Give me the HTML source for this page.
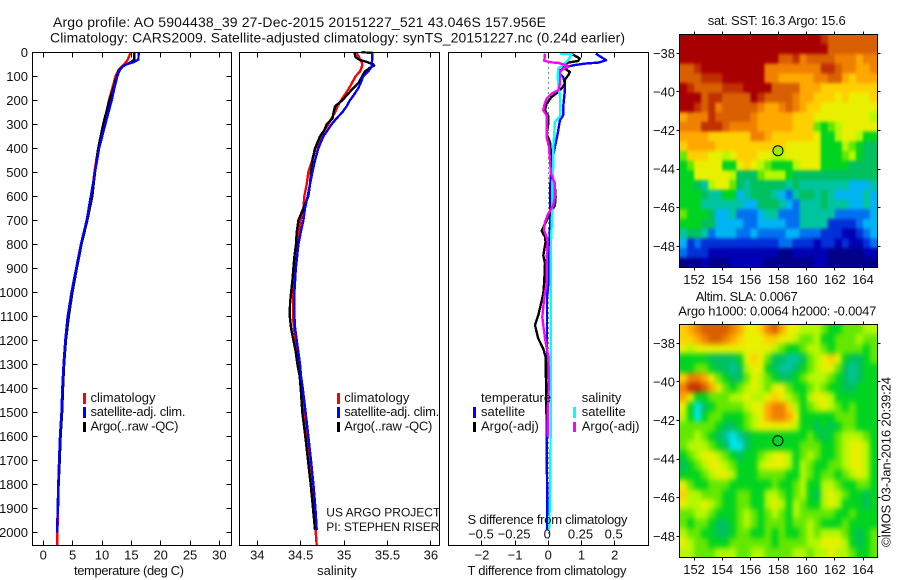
<!DOCTYPE html>
<html>
<head>
<meta charset="utf-8">
<title>Argo profile</title>
<style>
html,body{margin:0;padding:0;background:#fff;width:900px;height:580px;overflow:hidden}
svg{display:block}
text{font-family:"Liberation Sans",sans-serif;font-size:13px;fill:#111}
.ttl{font-size:14px}
.sm{font-size:12px}
.frame{fill:none;stroke:#000;stroke-width:1;shape-rendering:crispEdges}
.tick{stroke:#000;stroke-width:1;shape-rendering:crispEdges}
.prof{fill:none;stroke-width:2.4;shape-rendering:crispEdges;stroke-linejoin:round}
.key{shape-rendering:crispEdges}
</style>
</head>
<body>
<svg id="chart" width="900" height="580" viewBox="0 0 900 580" xmlns="http://www.w3.org/2000/svg">
<defs>
<clipPath id="sst-clip"><rect x="680" y="34.5" width="197" height="233"/></clipPath>
<clipPath id="sla-clip"><rect x="680" y="324.5" width="197" height="233"/></clipPath>
<filter id="sst-blur" color-interpolation-filters="sRGB"><feGaussianBlur stdDeviation="1.2 1.6"/></filter>
<filter id="sla-blur" color-interpolation-filters="sRGB"><feGaussianBlur stdDeviation="2.4 3"/></filter>
</defs>
<rect x="0" y="0" width="900" height="580" fill="#fff"/>
<g id="maps"></g>
<g id="profiles"></g>
<g id="axes"></g>

<text class="ttl" x="53" y="27" textLength="493" lengthAdjust="spacing">Argo profile: AO 5904438_39 27-Dec-2015 20151227_521 43.046S 157.956E</text>
<text class="ttl" x="50" y="42.5" textLength="575" lengthAdjust="spacing">Climatology: CARS2009. Satellite-adjusted climatology: synTS_20151227.nc (0.24d earlier)</text>

<text x="129" y="575" text-anchor="middle" textLength="110" lengthAdjust="spacing">temperature (deg C)</text>
<text x="337" y="575" text-anchor="middle">salinity</text>
<text x="547" y="575" text-anchor="middle" textLength="159" lengthAdjust="spacing">T difference from climatology</text>
<text x="547.5" y="524" text-anchor="middle" textLength="160" lengthAdjust="spacing">S difference from climatology</text>

<g>
<rect class="key" x="83" y="393" width="3" height="11" fill="#f00"/>
<rect class="key" x="83" y="407" width="3" height="11" fill="#00f"/>
<rect class="key" x="83" y="422" width="3" height="10" fill="#000"/>
<text x="90.5" y="402">climatology</text>
<text x="90.5" y="416" textLength="95" lengthAdjust="spacing">satellite-adj. clim.</text>
<text x="90.5" y="430.5" textLength="88" lengthAdjust="spacing">Argo(..raw -QC)</text>
</g>
<g>
<rect class="key" x="337" y="393" width="3" height="11" fill="#f00"/>
<rect class="key" x="337" y="407" width="3" height="11" fill="#00f"/>
<rect class="key" x="337" y="422" width="3" height="10" fill="#000"/>
<text x="344.3" y="402">climatology</text>
<text x="344.3" y="416" textLength="95" lengthAdjust="spacing">satellite-adj. clim.</text>
<text x="344.3" y="430.5" textLength="88" lengthAdjust="spacing">Argo(..raw -QC)</text>
<text class="sm" x="326.3" y="516.5" textLength="114" lengthAdjust="spacing">US ARGO PROJECT</text>
<text class="sm" x="326.3" y="531" textLength="113" lengthAdjust="spacing">PI: STEPHEN RISER</text>
</g>
<g>
<text x="481" y="402">temperature</text>
<text x="581.7" y="402">salinity</text>
<rect class="key" x="473" y="407" width="3" height="11" fill="#00f"/>
<rect class="key" x="473" y="422" width="3" height="10" fill="#000"/>
<rect class="key" x="573" y="407" width="3" height="11" fill="#0ff"/>
<rect class="key" x="573" y="422" width="3" height="10" fill="#f0f"/>
<text x="481" y="416">satellite</text>
<text x="481" y="430.5">Argo(-adj)</text>
<text x="581.7" y="416">satellite</text>
<text x="581.7" y="430.5">Argo(-adj)</text>
</g>

<text x="707.7" y="25" textLength="138" lengthAdjust="spacing">sat. SST: 16.3 Argo: 15.6</text>
<text x="695.7" y="301" textLength="102" lengthAdjust="spacing">Altim. SLA: 0.0067</text>
<text x="678.3" y="315.5" textLength="198" lengthAdjust="spacing">Argo h1000: 0.0064 h2000: -0.0047</text>
<text transform="translate(890.5,547) rotate(-90)" textLength="170" lengthAdjust="spacing">©IMOS 03-Jan-2016 20:39:24</text>
</svg>

<script>
// ---- profile data ----
var tempDepth = [0,30,40,50,60,75,100,150,200,300,400,500,600,700,800,900,1000,1100,1200,1300,1400,1500,1600,1700,1800,1900,2000,2055];
var tempClim = [14.9,14.4,14.1,13.8,13.4,12.8,12.3,11.75,11.2,10.3,9.35,8.7,8.24,7.45,6.4,5.6,4.8,4.2,3.8,3.5,3.3,3.13,2.9,2.75,2.58,2.5,2.4,2.4];
var tempSat = [16.25,16.2,15.5,14.2,13.5,13.0,12.6,12.1,11.65,10.56,9.5,8.8,8.1,7.4,6.4,5.6,4.8,4.15,3.75,3.45,3.24,3.1,2.85,2.7,2.55,2.45,2.35];
var tempArgo = [15.5,15.5,15.05,14.2,13.4,12.9,12.5,11.9,11.25,10.2,9.35,8.8,8.35,7.5,6.5,5.7,4.95,4.35,3.85,3.55,3.35,3.2,2.95,2.8,2.6,2.5];

var salDepth = [0,2,10,20,30,40,50,55,65,80,100,125,150,175,200,225,250,275,300,325,350,400,450,500,550,600,650,700,750,800,850,900,950,1000,1050,1100,1150,1200,1250,1300,1350,1400,1500,1600,1700,1800,1900,1990,2055];
var salClim = [35.144,35.144,35.155,35.17,35.182,35.201,35.209,35.209,35.201,35.182,35.132,35.094,35.056,35.01,34.964,34.925,34.895,34.856,34.818,34.772,34.734,34.672,34.634,34.588,34.569,34.542,34.531,34.5,34.473,34.454,34.443,34.435,34.423,34.416,34.412,34.412,34.42,34.443,34.458,34.473,34.489,34.504,34.534,34.569,34.596,34.63,34.657,34.672,34.684];
var salSat = [35.201,35.324,35.324,35.324,35.324,35.32,35.316,35.324,35.308,35.278,35.22,35.193,35.163,35.117,35.067,35.029,34.979,34.914,34.856,34.81,34.761,34.703,34.665,34.634,34.607,34.58,34.55,34.531,34.5,34.473,34.458,34.443,34.435,34.427,34.427,34.427,34.435,34.454,34.473,34.492,34.504,34.523,34.557,34.588,34.619,34.646,34.669,34.684];
var salArgo = [35.125,35.125,35.125,35.132,35.17,35.259,35.335,35.347,35.297,35.239,35.209,35.17,35.105,35.04,34.979,34.895,34.879,34.868,34.799,34.772,34.722,34.665,34.634,34.619,34.607,34.588,34.531,34.473,34.454,34.446,34.427,34.416,34.404,34.389,34.377,34.374,34.389,34.416,34.443,34.462,34.488,34.5,34.519,34.553,34.584,34.615,34.642,34.665];

var diffSatTDepth = [6,33,43,47,54,61,75,89,103,131,158,186,228,262,283,325,360,394,429,464,506,575,644,728,783,867,964,1019,1339,1367,1644,1867,1992];
var diffSatT = [1.43,1.74,1.51,1.10,0.75,0.55,0.35,0.35,0.45,0.5,0.5,0.48,0.45,0.45,0.35,0.3,0.25,0.2,0.15,0.12,0.08,0.05,0.05,0.05,0.04,0.02,0,-0.04,-0.04,-0.06,-0.05,-0.03,-0.03];
var diffArgoTDepth = [6,26,36,43,54,68,82,96,114,131,151,165,186,214,242,267,297,339,374,422,457,506,561,603,638,672,714,744,769,790,846,881,950,1006,1047,1096,1137,1193,1235,1269,1367,1464,1533];
var diffArgoT = [0.7,0.95,0.9,0.6,0.4,0.5,0.65,0.6,0.5,0.5,0.4,0.3,0.1,-0.05,-0.1,0,0,-0.05,0.05,0.08,0.08,0.1,0.2,0.22,0.2,0.05,-0.1,-0.2,-0.1,-0.08,-0.15,-0.1,-0.12,-0.15,-0.22,-0.3,-0.4,-0.3,-0.15,-0.08,-0.07,-0.05,-0.05];
var diffSatSDepth = [6,8,33,50,68,103,131,186,235,267,290,339,394,464,547,644,728,783,964,1144,1256,1367,1450,1547,1853,1992];
var diffSatS = [0.088,0.176,0.15,0.113,0.075,0.07,0.075,0.088,0.088,0.088,0.05,0.045,0.038,0.038,0.03,0.03,0.025,0.02,0.018,0.018,0.018,0.02,0.018,0.018,0.013,0.005];
var diffArgoSDepth = [6,36,42,44,54,61,68,82,110,131,158,172,193,221,242,262,311,353,394,450,506,547,603,638,672,707,742,769,790,867,964,1019,1103,1158,1214,1269,1367,1506,1603];
var diffArgoS = [-0.025,-0.03,0.025,0.075,0.138,0.15,0.113,0.088,0.088,0.088,0.075,0.025,-0.013,-0.03,-0.038,-0.013,-0.013,-0.013,0.005,0.013,0.02,0.05,0.05,0.038,0,-0.025,-0.033,-0.013,-0.005,-0.013,-0.013,-0.03,-0.045,-0.033,-0.018,0,0.005,-0.005,-0.005];

// ---- tick labels ----
var depthTicks = [0,100,200,300,400,500,600,700,800,900,1000,1100,1200,1300,1400,1500,1600,1700,1800,1900,2000];
var tempTicks = [0,5,10,15,20,25,30];
var salTicks = [34,34.5,35,35.5,36];
var diffTTicks = [-2,-1,0,1,2];
var diffSTicks = [-0.5,-0.25,0,0.25,0.5];
var lonTicks = [152,154,156,158,160,162,164];
var latTicks = [-38,-40,-42,-44,-46,-48];

// ---- map grids: 0.5 degree cells, letter = colour class, rows run north to south ----
var sstRows = [
"qqqqqqqqqqqqqqqqqqqqpooooooo",
"qqqqqqqqqqqqqqqqqqqqqooooooo",
"qqqqqqqqqqqqqqoopnoooonnnmnn",
"oopqqqqqqqqqnnnnnnnnpponnmmn",
"ooopppqqqqqqnnmmmmmnnoomlmmm",
"qpoooopppqqqqoooommmllllllll",
"qqqoppooooqpoooonmmlllklkkkl",
"qqpopnooooonmmnonmllkkkkkkkk",
"mnnnpooooonmmmmmlllkkkkkkkkj",
"nnnpppOnnnnmmmmmlllihijkkkkk",
"mmmmllllllnnmllllllkhhjkkjhh",
"lmmmmllllllllllkkkkkhhhjihgg",
"illlkkjklllkkjjkkkkkhhhijhgg",
"hikkkkhhklkjihhhjkkkhhhhgggg",
"hhkkkkkjgggijjjhgggggggggggg",
"hhgfjkkigfgggggfgfffffffeeef",
"hhhgffhhefgggfedfggfgfeeeefe",
"hhhffffffeegggfedfffgfffeefe",
"ihhhgeefdddeffdddfffffddddde",
"hhhggeeeeddeeeeddffffccccdee",
"fggfdeeeddeddddeedddcccbbcde",
"ecdcccccccccccddcccbccbcbbcd",
"dcccbbbbbbbbbbaabbbbbaaaaabb",
"aaabaaabbbbbaaaaaaabbaaaaaaa"
];
var slaRows = [
"lmnoooonmkklnomkkjjjihhiiijj",
"llmnoonmlkkkllkkjiijhhiiijii",
"kjkkkkkkkkkkkjihhijjihiiiihi",
"hhhhgggghklkiggffgijklkhgghi",
"hhiihggfgjkkhgffghijkkigfghh",
"lnnmkihggikjihgghijjjihgfghh",
"nppomkihijkjikkihhijihhgghhh",
"mkhhiiijjkjjklkjihjkkjhhhhhh",
"khrghiiiijkkmnnljhijkjihihhh",
"jhrhiihhhijkmnnmkhhhhhiiihhh",
"iiiiihgghijkkkkkjhhghghiihhh",
"iijihgfrfghhhhhhhhihghijjjih",
"ijjjihgrrghhhhhhhiiihhijkkjh",
"hijkkjihghhijkkjhijihhijkkjh",
"ghijkkjihhhjkkkjhjihhiijkkjh",
"hhhijkkjhhhiiiihhjihiihijkjh",
"kihhiiihhhhhhihhijhhjjihhiih",
"ljjiiihhiihhjjihijhgjkjihhgh",
"kjjkjihhiihhjkjhjihhjkjhhhgh",
"iijjihhhijihijihjiiiiihhihhh",
"ihiihgghijihiiihiijihhhihhhh",
"jiihhgghiihhihihhijijjjihghi",
"kjiihhhiiiiiihiiiijjkkkjhghi",
"jjiiijjjiijjiiiijjijjkjjihhi"
];
var colourClasses = {a:"#000088",b:"#0000b4",c:"#0030d8",d:"#0070f0",e:"#00b4f4",f:"#00c4a0",g:"#00c060",h:"#00d420",i:"#64e800",j:"#b4f800",k:"#e8f000",l:"#ffd000",m:"#ffa800",n:"#f08000",o:"#d86000",O:"#d86000",p:"#c03000",q:"#a80000",r:"#00e4f0"};
var argoLon = 157.956;
var argoLat = -43.046;

// ---- axis functions ----
var NS = "http://www.w3.org/2000/svg";
var panelTop = 52.5, panelBottom = 545.5;
function depthY(d){ return 52.3 + 0.24 * d; }
function tempX(t){ return 43.3 + 5.87 * t; }
function salX(s){ return 257.3 + 86.8 * (s - 34); }
function diffTX(t){ return 548.3 + 33.2 * t; }
function diffSX(s){ return 548.3 + 132.8 * s; }
function lonX(lon){ return 680 + 14.08 * (lon - 151); }
function sstLatY(lat){ return 53.3 + 19.3 * (-38 - lat); }
function slaLatY(lat){ return 343.3 + 19.3 * (-38 - lat); }

var axesG = document.getElementById("axes");
var profG = document.getElementById("profiles");
var mapsG = document.getElementById("maps");

function addLine(parent, x1, y1, x2, y2, name){
  var el = document.createElementNS(NS, "line");
  el.setAttribute("x1", x1);
  el.setAttribute("y1", y1);
  el.setAttribute("x2", x2);
  el.setAttribute("y2", y2);
  el.setAttribute("class", "tick");
  
  
  parent.appendChild(el);
  return el;
}
function addText(parent, x, y, str, anchor, name){
  var el = document.createElementNS(NS, "text");
  el.setAttribute("x", x);
  el.setAttribute("y", y);
  el.setAttribute("text-anchor", anchor);
  el.textContent = str;
  
  
  parent.appendChild(el);
  return el;
}
function addFrame(x1, y1, x2, y2, name){
  var el = document.createElementNS(NS, "rect");
  el.setAttribute("x", x1);
  el.setAttribute("y", y1);
  el.setAttribute("width", x2 - x1);
  el.setAttribute("height", y2 - y1);
  el.setAttribute("class", "frame");
  
  
  axesG.appendChild(el);
}
function addProfile(depths, values, xFn, colour, name){
  var pts = [];
  for (var i = 0; i < values.length; i++) {
    pts.push(xFn(values[i]).toFixed(1) + "," + depthY(depths[i]).toFixed(1));
  }
  var el = document.createElementNS(NS, "polyline");
  el.setAttribute("points", pts.join(" "));
  el.setAttribute("class", "prof");
  el.setAttribute("stroke", colour);
  
  
  profG.appendChild(el);
}
function snap(v){ return Math.round(v - 0.5) + 0.5; }

// profile panels
addProfile(tempDepth, tempClim, tempX, "#f00", "temperature-climatology-line");
addProfile(tempDepth, tempArgo, tempX, "#000", "temperature-argo-line");
addProfile(tempDepth, tempSat, tempX, "#00f", "temperature-satellite-line");
addProfile(salDepth, salClim, salX, "#f00", "salinity-climatology-line");
addProfile(salDepth, salArgo, salX, "#000", "salinity-argo-line");
addProfile(salDepth, salSat, salX, "#00f", "salinity-satellite-line");

// dotted zero line in the difference panel
var zeroLine = addLine(profG, snap(diffTX(0)), panelTop, snap(diffTX(0)), panelBottom, "zero-difference-line");
zeroLine.setAttribute("stroke-dasharray", "1 4");

addProfile(diffSatTDepth, diffSatT, diffTX, "#00f", "difference-t-satellite-line");
addProfile(diffArgoTDepth, diffArgoT, diffTX, "#000", "difference-t-argo-line");
addProfile(diffSatSDepth, diffSatS, diffSX, "#0ff", "difference-s-satellite-line");
addProfile(diffArgoSDepth, diffArgoS, diffSX, "#f0f", "difference-s-argo-line");

// panel frames
addFrame(32.5, panelTop, 231.5, panelBottom, "temperature-plot-frame");
addFrame(239.5, panelTop, 439.5, panelBottom, "salinity-plot-frame");
addFrame(448.5, panelTop, 648.5, panelBottom, "difference-plot-frame");

// depth ticks and labels
depthTicks.forEach(function(d){
  var y = snap(depthY(d));
  addLine(axesG, 32.5, y, 37.5, y, "depth-tick-left");
  addLine(axesG, 226.5, y, 231.5, y, "depth-tick-right");
  addText(axesG, 28, y + 4.5, String(d), "end", "depth-tick-label");
});
function panelXTicks(values, xFn, label, baseline, name){
  values.forEach(function(v){
    var x = snap(xFn(v));
    addLine(axesG, x, panelTop, x, panelTop + 5, name + "-tick-top");
    addLine(axesG, x, panelBottom - 5, x, panelBottom, name + "-tick-bottom");
    if (label) {
      addText(axesG, xFn(v), baseline, String(v).replace("-", "\u2212"), "middle", name + "-tick-label");
    }
  });
}
panelXTicks(tempTicks, tempX, true, 559.5, "temperature");
panelXTicks(salTicks, salX, true, 559.5, "salinity");
panelXTicks(diffTTicks, diffTX, true, 559.5, "t-difference");
diffSTicks.forEach(function(v){
  addText(axesG, diffSX(v) - 1, 538.5, String(v).replace("-", "\u2212"), "middle", "s-difference-tick-label");
});

// maps
function drawMap(rows, top, bottom, left, right, latFn, name, circleFill, clipId, blurId){
  var outer = document.createElementNS(NS, "g");
  outer.setAttribute("clip-path", "url(#" + clipId + ")");
  
  
  var inner = document.createElementNS(NS, "g");
  inner.setAttribute("filter", "url(#" + blurId + ")");
  outer.appendChild(inner);
  mapsG.appendChild(outer);
  var rowH = (bottom - top) / rows.length;
  var colW = (right - left) / 28;
  var bleed = 14;
  rows.forEach(function(row, r){
    for (var c = 0; c < 28; c++) {
      var cx = left + c * colW, cy = top + r * rowH, cw = colW + 0.4, ch = rowH + 0.4;
      if (c === 0) { cx -= bleed; cw += bleed; }
      if (c === 27) { cw += bleed; }
      if (r === 0) { cy -= bleed; ch += bleed; }
      if (r === rows.length - 1) { ch += bleed; }
      var el = document.createElementNS(NS, "rect");
      el.setAttribute("x", cx.toFixed(2));
      el.setAttribute("y", cy.toFixed(2));
      el.setAttribute("width", cw.toFixed(2));
      el.setAttribute("height", ch.toFixed(2));
      el.setAttribute("fill", colourClasses[row.charAt(c)]);
      
      
      inner.appendChild(el);
    }
  });
  addFrame(left - 0.5, top, right + 0.5, bottom, name + "-frame");
  lonTicks.forEach(function(lon){
    var x = snap(lonX(lon));
    addLine(axesG, x, top - 3, x, top, name + "-lon-tick-top");
    addLine(axesG, x, bottom, x, bottom + 3, name + "-lon-tick-bottom");
    addText(axesG, lonX(lon), bottom + 16.5, String(lon), "middle", name + "-lon-tick-label");
  });
  latTicks.forEach(function(lat){
    var y = snap(latFn(lat));
    addLine(axesG, left - 3.5, y, left - 0.5, y, name + "-lat-tick-left");
    addLine(axesG, right + 0.5, y, right + 3.5, y, name + "-lat-tick-right");
    addText(axesG, left - 5, latFn(lat) + 4.5, String(lat).replace("-", "\u2212"), "end", name + "-lat-tick-label");
  });
  var dot = document.createElementNS(NS, "circle");
  dot.setAttribute("cx", lonX(argoLon));
  dot.setAttribute("cy", latFn(argoLat));
  dot.setAttribute("r", 5);
  dot.setAttribute("fill", circleFill);
  dot.setAttribute("stroke", "#000");
  
  
  axesG.appendChild(dot);
}
drawMap(sstRows, 34.5, 267.5, 680, 877, sstLatY, "sst-map", "#9bec00", "sst-clip", "sst-blur");
drawMap(slaRows, 324.5, 557.5, 680, 877, slaLatY, "sla-map", "none", "sla-clip", "sla-blur");
</script>
</body>
</html>
